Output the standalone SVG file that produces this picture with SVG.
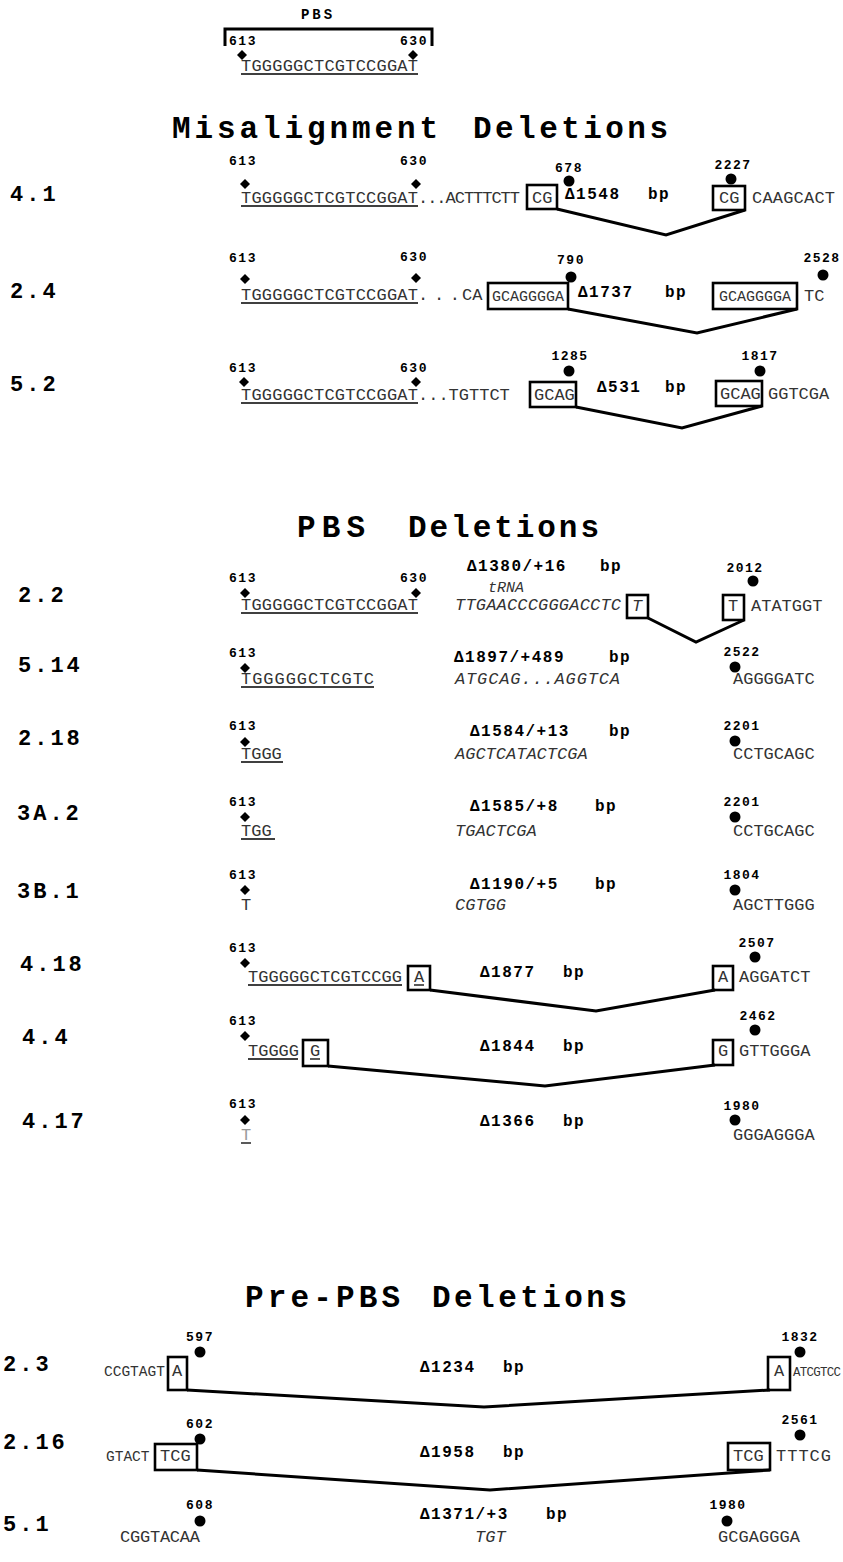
<svg xmlns="http://www.w3.org/2000/svg" xmlns:xlink="http://www.w3.org/1999/xlink" width="843" height="1562" viewBox="0 0 843 1562">
<style>
.ti{font-family:"Liberation Mono",monospace;font-weight:bold;font-size:31px;fill:#000}
.lab{font-family:"Liberation Mono",monospace;font-weight:bold;font-size:22px;letter-spacing:3px;fill:#000}
.num{font-family:"Liberation Mono",monospace;font-weight:bold;font-size:13px;letter-spacing:1.5px;fill:#000;text-anchor:middle}
.seq{font-family:"Liberation Mono",monospace;font-size:17px;fill:#333}
.sm{font-size:14.5px}
.it{font-style:italic}
.del{font-family:"Liberation Mono",monospace;font-weight:bold;font-size:16px;letter-spacing:1.5px;fill:#000}
.box{fill:none;stroke:#000;stroke-width:2.6}
.conn{fill:none;stroke:#000;stroke-width:3;stroke-linejoin:miter}
.ul{stroke:#000;stroke-width:1.3}
.br{fill:none;stroke:#000;stroke-width:3}
</style>
<defs>
<path id="dia" d="M0,-5 L5,0 L0,5 L-5,0 Z" fill="#000"/>
<circle id="dot" r="5.5" fill="#000"/>
</defs>

<!-- PBS header -->
<g id="pbs-header">
<text class="num" x="318" y="19" style="font-size:14px;letter-spacing:3px">PBS</text>
<path class="br" d="M225,46 V29 H432 V46"/>
<text class="num" x="243" y="45">613</text>
<text class="num" x="414" y="45">630</text>
<use xlink:href="#dia" x="242" y="55"/>
<use xlink:href="#dia" x="413" y="55"/>
<text class="seq" x="241" y="71" textLength="177">TGGGGGCTCGTCCGGAT</text>
<line class="ul" x1="241" y1="74" x2="418" y2="74"/>
</g>

<text class="ti" x="172" y="138" textLength="266" lengthAdjust="spacing">Misalignment</text>
<text class="ti" x="473" y="138" textLength="195" lengthAdjust="spacing">Deletions</text>

<!-- 4.1 -->
<g id="row-4-1">
<text class="lab" x="10" y="201">4.1</text>
<text class="num" x="243" y="165">613</text>
<use xlink:href="#dia" x="245" y="184"/>
<text class="num" x="414" y="165">630</text>
<use xlink:href="#dia" x="416" y="184"/>
<text class="seq" x="241" y="203" textLength="177">TGGGGGCTCGTCCGGAT</text>
<line class="ul" x1="241" y1="206" x2="418" y2="206"/>
<text class="seq" x="418" y="203" textLength="102">...ACTTTCTT</text>
<text class="num" x="569" y="172">678</text>
<use xlink:href="#dot" x="569" y="181"/>
<rect class="box" x="527" y="185" width="30" height="24"/>
<text class="seq" x="532" y="203">CG</text>
<text class="del" x="565" y="199">Δ1548</text>
<text class="del" x="648" y="199">bp</text>
<text class="num" x="733" y="169">2227</text>
<use xlink:href="#dot" x="731" y="179"/>
<rect class="box" x="713" y="186" width="32" height="24"/>
<text class="seq" x="719" y="203">CG</text>
<text class="seq" x="752" y="203" textLength="83">CAAGCACT</text>
</g>

<!-- 2.4 -->
<g id="row-2-4">
<text class="lab" x="10" y="298">2.4</text>
<text class="num" x="243" y="262">613</text>
<use xlink:href="#dia" x="245" y="279"/>
<text class="num" x="414" y="261">630</text>
<use xlink:href="#dia" x="416" y="278"/>
<text class="seq" x="241" y="300" textLength="177">TGGGGGCTCGTCCGGAT</text>
<line class="ul" x1="241" y1="303" x2="418" y2="303"/>
<text class="seq" x="418" y="300" textLength="42">...</text>
<text class="seq" x="462" y="300">CA</text>
<text class="num" x="571" y="264">790</text>
<use xlink:href="#dot" x="571" y="277"/>
<rect class="box" x="488" y="283" width="80" height="26"/>
<text class="seq" x="492" y="301" style="font-size:15px">GCAGGGGA</text>
<text class="del" x="578" y="297">Δ1737</text>
<text class="del" x="665" y="297">bp</text>
<text class="num" x="822" y="262">2528</text>
<use xlink:href="#dot" x="823" y="275"/>
<rect class="box" x="713" y="283" width="84" height="26"/>
<text class="seq" x="719" y="301" style="font-size:15px">GCAGGGGA</text>
<text class="seq" x="804" y="301">TC</text>
</g>

<!-- 5.2 -->
<g id="row-5-2">
<text class="lab" x="10" y="391">5.2</text>
<text class="num" x="243" y="372">613</text>
<use xlink:href="#dia" x="244" y="382"/>
<text class="num" x="414" y="372">630</text>
<use xlink:href="#dia" x="416" y="382"/>
<text class="seq" x="241" y="400" textLength="177">TGGGGGCTCGTCCGGAT</text>
<line class="ul" x1="241" y1="403" x2="418" y2="403"/>
<text class="seq" x="418" y="400">...TGTTCT</text>
<text class="num" x="570" y="360">1285</text>
<use xlink:href="#dot" x="569" y="371"/>
<rect class="box" x="530" y="382" width="46" height="25"/>
<text class="seq" x="534" y="400">GCAG</text>
<text class="del" x="597" y="392">Δ531</text>
<text class="del" x="665" y="392">bp</text>
<text class="num" x="760" y="360">1817</text>
<use xlink:href="#dot" x="760" y="371"/>
<rect class="box" x="716" y="381" width="46" height="25"/>
<text class="seq" x="720" y="399">GCAG</text>
<text class="seq" x="768" y="399">GGTCGA</text>
</g>

<text class="ti" x="297" y="537" textLength="68" lengthAdjust="spacing">PBS</text>
<text class="ti" x="408" y="537" textLength="191" lengthAdjust="spacing">Deletions</text>

<!-- 2.2 -->
<g id="row-2-2">
<text class="lab" x="18" y="602">2.2</text>
<text class="num" x="243" y="582">613</text>
<use xlink:href="#dia" x="245" y="593"/>
<text class="num" x="414" y="582">630</text>
<use xlink:href="#dia" x="416" y="593"/>
<text class="seq" x="241" y="610" textLength="177">TGGGGGCTCGTCCGGAT</text>
<line class="ul" x1="241" y1="613" x2="418" y2="613"/>
<text class="del" x="467" y="571">Δ1380/+16</text>
<text class="del" x="600" y="571">bp</text>
<text class="seq it" x="488" y="592" style="font-size:15px">tRNA</text>
<text class="seq it" x="455" y="610" textLength="166">TTGAACCCGGGACCTC</text>
<rect class="box" x="627" y="595" width="21" height="23"/>
<text class="seq it" x="632" y="611">T</text>
<text class="num" x="745" y="572">2012</text>
<use xlink:href="#dot" x="753" y="581"/>
<rect class="box" x="723" y="595" width="21" height="25"/>
<text class="seq" x="728" y="611">T</text>
<text class="seq" x="751" y="611">ATATGGT</text>
</g>

<!-- 5.14 -->
<g id="row-5-14">
<text class="lab" x="18" y="672">5.14</text>
<text class="num" x="243" y="657">613</text>
<use xlink:href="#dia" x="245" y="668"/>
<text class="seq" x="241" y="684" textLength="133">TGGGGGCTCGTC</text>
<line class="ul" x1="241" y1="687" x2="374" y2="687"/>
<text class="del" x="454" y="662">Δ1897/+489</text>
<text class="del" x="609" y="662">bp</text>
<text class="seq it" x="455" y="684" textLength="165">ATGCAG...AGGTCA</text>
<text class="num" x="742" y="656">2522</text>
<use xlink:href="#dot" x="735" y="667"/>
<text class="seq" x="733" y="684">AGGGGATC</text>
</g>

<!-- 2.18 -->
<g id="row-2-18">
<text class="lab" x="18" y="745">2.18</text>
<text class="num" x="243" y="730">613</text>
<use xlink:href="#dia" x="245" y="742"/>
<text class="seq" x="241" y="759">TGGG</text>
<line class="ul" x1="241" y1="762" x2="283" y2="762"/>
<text class="del" x="470" y="736">Δ1584/+13</text>
<text class="del" x="609" y="736">bp</text>
<text class="seq it" x="455" y="759">AGCTCATACTCGA</text>
<text class="num" x="742" y="730">2201</text>
<use xlink:href="#dot" x="735" y="741"/>
<text class="seq" x="733" y="759">CCTGCAGC</text>
</g>

<!-- 3A.2 -->
<g id="row-3A-2">
<text class="lab" x="17" y="820">3A.2</text>
<text class="num" x="243" y="806">613</text>
<use xlink:href="#dia" x="245" y="817"/>
<text class="seq" x="241" y="836">TGG</text>
<line class="ul" x1="241" y1="839" x2="275" y2="839"/>
<text class="del" x="470" y="811">Δ1585/+8</text>
<text class="del" x="595" y="811">bp</text>
<text class="seq it" x="455" y="836">TGACTCGA</text>
<text class="num" x="742" y="806">2201</text>
<use xlink:href="#dot" x="735" y="817"/>
<text class="seq" x="733" y="836">CCTGCAGC</text>
</g>

<!-- 3B.1 -->
<g id="row-3B-1">
<text class="lab" x="17" y="898">3B.1</text>
<text class="num" x="243" y="879">613</text>
<use xlink:href="#dia" x="245" y="890"/>
<text class="seq" x="241" y="910">T</text>
<text class="del" x="470" y="889">Δ1190/+5</text>
<text class="del" x="595" y="889">bp</text>
<text class="seq it" x="455" y="910">CGTGG</text>
<text class="num" x="742" y="879">1804</text>
<use xlink:href="#dot" x="735" y="890"/>
<text class="seq" x="733" y="910">AGCTTGGG</text>
</g>

<!-- 4.18 -->
<g id="row-4-18">
<text class="lab" x="20" y="971">4.18</text>
<text class="num" x="243" y="952">613</text>
<use xlink:href="#dia" x="245" y="963"/>
<text class="seq" x="248" y="982" textLength="154">TGGGGGCTCGTCCGG</text>
<line class="ul" x1="248" y1="985" x2="402" y2="985"/>
<rect class="box" x="408" y="966" width="22" height="24"/>
<text class="seq" x="414" y="982">A</text>
<line class="ul" x1="414" y1="985" x2="424" y2="985"/>
<text class="del" x="480" y="977">Δ1877</text>
<text class="del" x="563" y="977">bp</text>
<text class="num" x="757" y="947">2507</text>
<use xlink:href="#dot" x="755" y="957"/>
<rect class="box" x="713" y="966" width="20" height="24"/>
<text class="seq" x="718" y="982">A</text>
<text class="seq" x="739" y="982">AGGATCT</text>
</g>

<!-- 4.4 -->
<g id="row-4-4">
<text class="lab" x="22" y="1044">4.4</text>
<text class="num" x="243" y="1025">613</text>
<use xlink:href="#dia" x="245" y="1036"/>
<text class="seq" x="248" y="1056">TGGGG</text>
<line class="ul" x1="248" y1="1059" x2="298" y2="1059"/>
<rect class="box" x="303" y="1040" width="25" height="26"/>
<text class="seq" x="310" y="1056">G</text>
<line class="ul" x1="310" y1="1059" x2="320" y2="1059"/>
<text class="del" x="480" y="1051">Δ1844</text>
<text class="del" x="563" y="1051">bp</text>
<text class="num" x="758" y="1020">2462</text>
<use xlink:href="#dot" x="755" y="1030"/>
<rect class="box" x="713" y="1040" width="20" height="25"/>
<text class="seq" x="718" y="1056">G</text>
<text class="seq" x="739" y="1056">GTTGGGA</text>
</g>

<!-- 4.17 -->
<g id="row-4-17">
<text class="lab" x="22" y="1128">4.17</text>
<text class="num" x="243" y="1108">613</text>
<use xlink:href="#dia" x="245" y="1120"/>
<text class="seq" x="241" y="1140" style="fill:#999">T</text>
<line class="ul" x1="241" y1="1143" x2="251" y2="1143"/>
<text class="del" x="480" y="1126">Δ1366</text>
<text class="del" x="563" y="1126">bp</text>
<text class="num" x="742" y="1110">1980</text>
<use xlink:href="#dot" x="735" y="1120"/>
<text class="seq" x="733" y="1140">GGGAGGGA</text>
</g>

<text class="ti" x="245" y="1307" textLength="155" lengthAdjust="spacing">Pre-PBS</text>
<text class="ti" x="432" y="1307" textLength="195" lengthAdjust="spacing">Deletions</text>

<!-- 2.3 -->
<g id="row-2-3">
<text class="lab" x="3" y="1371">2.3</text>
<text class="num" x="200" y="1341">597</text>
<use xlink:href="#dot" x="200" y="1352"/>
<text class="seq sm" x="104" y="1376">CCGTAGT</text>
<rect class="box" x="168" y="1357" width="19" height="33"/>
<text class="seq" x="172" y="1376">A</text>
<text class="del" x="420" y="1372">Δ1234</text>
<text class="del" x="503" y="1372">bp</text>
<text class="num" x="800" y="1341">1832</text>
<use xlink:href="#dot" x="800" y="1352"/>
<rect class="box" x="768" y="1357" width="22" height="33"/>
<text class="seq" x="774" y="1376">A</text>
<text class="seq" x="793" y="1376" style="font-size:12.5px" textLength="48">ATCGTCC</text>
</g>

<!-- 2.16 -->
<g id="row-2-16">
<text class="lab" x="3" y="1449">2.16</text>
<text class="num" x="200" y="1428">602</text>
<use xlink:href="#dot" x="200" y="1439"/>
<text class="seq sm" x="106" y="1461">GTACT</text>
<rect class="box" x="155" y="1444" width="42" height="26"/>
<text class="seq" x="160" y="1461">TCG</text>
<text class="del" x="420" y="1457">Δ1958</text>
<text class="del" x="503" y="1457">bp</text>
<text class="num" x="800" y="1424">2561</text>
<use xlink:href="#dot" x="800" y="1435"/>
<rect class="box" x="728" y="1443" width="42" height="27"/>
<text class="seq" x="733" y="1461">TCG</text>
<text class="seq" x="776" y="1461" textLength="55">TTTCG</text>
</g>

<!-- 5.1 -->
<g id="row-5-1">
<text class="lab" x="3" y="1531">5.1</text>
<text class="num" x="200" y="1509">608</text>
<use xlink:href="#dot" x="200" y="1521"/>
<text class="seq" x="120" y="1542" textLength="80">CGGTACAA</text>
<text class="del" x="420" y="1519">Δ1371/+3</text>
<text class="del" x="546" y="1519">bp</text>
<text class="seq it" x="475" y="1542">TGT</text>
<text class="num" x="728" y="1509">1980</text>
<use xlink:href="#dot" x="727" y="1521"/>
<text class="seq" x="718" y="1542" textLength="82">GCGAGGGA</text>
</g>

<g id="connectors">
<polyline class="conn" points="557,209 666,235 745,210"/>
<polyline class="conn" points="568,309 697,333 797,309"/>
<polyline class="conn" points="576,407 682,428 762,406"/>
<polyline class="conn" points="648,618 696,642 744,620"/>
<polyline class="conn" points="430,990 596,1011 715,990"/>
<polyline class="conn" points="328,1066 545,1086 715,1065"/>
<polyline class="conn" points="187,1390 484,1407 770,1390"/>
<polyline class="conn" points="197,1470 490,1490 770,1470"/>
</g>
</svg>
